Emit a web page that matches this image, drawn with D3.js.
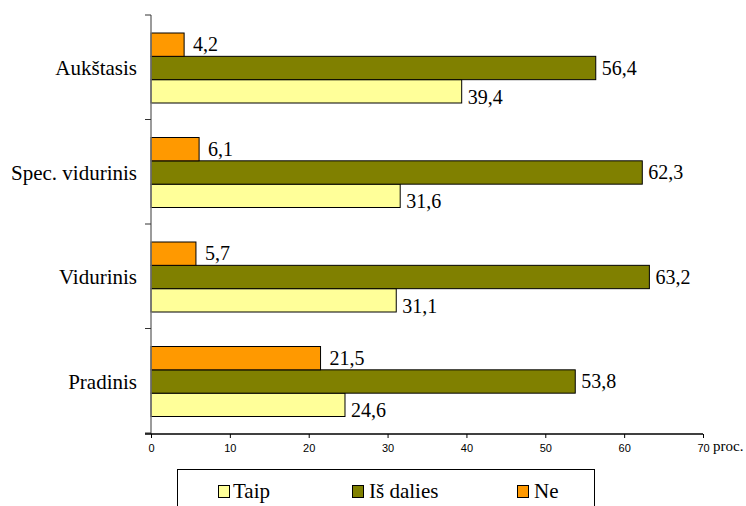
<!DOCTYPE html>
<html>
<head>
<meta charset="utf-8">
<script src="https://cdn.jsdelivr.net/npm/d3@7"></script>
<style>
  html, body { margin: 0; padding: 0; background: #fff; }
  svg { display: block; }
  .serif { font-family: "Liberation Serif", "Times New Roman", Times, "DejaVu Serif", serif; }
  .sans { font-family: "Liberation Sans", Arial, Helvetica, sans-serif; }
</style>
</head>
<body>
<svg id="chart" width="746" height="506"></svg>
<script>
// Education levels (top to bottom) and answer shares, %
const categories = ["Aukštasis", "Spec. vidurinis", "Vidurinis", "Pradinis"];
const seriesNames = ["Taip", "Iš dalies", "Ne"];
const taip     = [39.4, 31.6, 31.1, 24.6];
const isDalies = [56.4, 62.3, 63.2, 53.8];
const ne       = [4.2, 6.1, 5.7, 21.5];
const xTicks = [0, 10, 20, 30, 40, 50, 60, 70];
const unitLabel = "proc.";

const colors = { "Taip": "#FFFF99", "Iš dalies": "#808000", "Ne": "#FF9900" };
const valuesBySeries = { "Taip": taip, "Iš dalies": isDalies, "Ne": ne };

const fmt = v => d3.format(".1f")(v).replace(".", ",");

const svg = d3.select("#chart");

const x = d3.scaleLinear().domain([0, 70]).range([151, 703]);
const yCat = d3.scaleBand().domain(categories).range([15, 433]);
// within each category: Ne on top, then Iš dalies, then Taip
const yInner = d3.scaleBand().domain(["Ne", "Iš dalies", "Taip"]).range([0, 70]);
const groupOffset = 18;

// rows of bars
const rows = [];
categories.forEach((c, i) => {
  seriesNames.forEach(s => rows.push({ cat: c, series: s, value: valuesBySeries[s][i] }));
});

const barY = d => yCat(d.cat) + groupOffset + yInner(d.series);

svg.append("g").selectAll("rect")
  .data(rows).join("rect")
  .attr("x", x(0))
  .attr("y", barY)
  .attr("width", d => x(d.value) - x(0))
  .attr("height", yInner.bandwidth())
  .attr("fill", d => colors[d.series])
  .attr("stroke", "#000")
  .attr("stroke-width", 1);

// value labels
const labelDy = { "Ne": 6.5, "Iš dalies": 6.5, "Taip": 12.5 };
svg.append("g").selectAll("text")
  .data(rows).join("text")
  .attr("class", "serif")
  .attr("x", d => x(d.value) + (d.series === "Ne" ? 9 : 6))
  .attr("y", d => barY(d) + yInner.bandwidth() / 2 + labelDy[d.series])
  .attr("font-size", 20)
  .attr("fill", "#000")
  .text(d => fmt(d.value));

// vertical category axis
const yAxisG = svg.append("g");
yAxisG.append("line")
  .attr("x1", 151).attr("x2", 151)
  .attr("y1", yCat.range()[0]).attr("y2", 434)
  .attr("stroke", "#7a7a7a").attr("stroke-width", 1.5);
const bounds = categories.map(c => yCat(c)).concat([yCat.range()[1]]);
yAxisG.selectAll("line.tick").data(bounds).join("line")
  .attr("class", "tick")
  .attr("x1", 145).attr("x2", 151)
  .attr("y1", d => d).attr("y2", d => d)
  .attr("stroke", "#333").attr("stroke-width", 1);
yAxisG.selectAll("text").data(categories).join("text")
  .attr("class", "serif")
  .attr("x", 137)
  .attr("y", d => yCat(d) + yCat.bandwidth() / 2 + 8)
  .attr("text-anchor", "end")
  .attr("font-size", 21)
  .attr("fill", "#000")
  .text(d => d);

// horizontal value axis
const xAxis = d3.axisBottom(x).tickValues(xTicks).tickSize(4).tickPadding(6).tickFormat(d3.format("d"));
const xAxisG = svg.append("g").attr("transform", "translate(0,434)").call(xAxis);
xAxisG.attr("font-family", null).attr("font-size", null);
xAxisG.select(".domain").attr("d", "M145,0H" + x(70)).attr("stroke", "#000").attr("stroke-width", 1.3);
xAxisG.selectAll(".tick line").attr("stroke", "#000");
xAxisG.selectAll(".tick text")
  .attr("class", "sans")
  .attr("font-size", 11)
  .attr("fill", "#000");

svg.append("text")
  .attr("class", "serif")
  .attr("x", 713).attr("y", 451)
  .attr("font-size", 15)
  .attr("fill", "#000")
  .text(unitLabel);

// legend
const legend = svg.append("g");
legend.append("rect")
  .attr("x", 177.5).attr("y", 469.5)
  .attr("width", 417).attr("height", 60)
  .attr("fill", "#fff").attr("stroke", "#000").attr("stroke-width", 1);
const legendX = [218, 352, 517];
const items = legend.selectAll("g.item").data(seriesNames).join("g")
  .attr("class", "item")
  .attr("transform", (d, i) => `translate(${legendX[i]},0)`);
items.append("rect")
  .attr("x", 0.5).attr("y", 485.5)
  .attr("width", 11).attr("height", 12)
  .attr("fill", d => colors[d])
  .attr("stroke", "#000").attr("stroke-width", 1);
items.append("text")
  .attr("class", "serif")
  .attr("x", d => d === "Taip" ? 15 : 17)
  .attr("y", 498)
  .attr("font-size", 21)
  .attr("fill", "#000")
  .text(d => d);
</script>
</body>
</html>
